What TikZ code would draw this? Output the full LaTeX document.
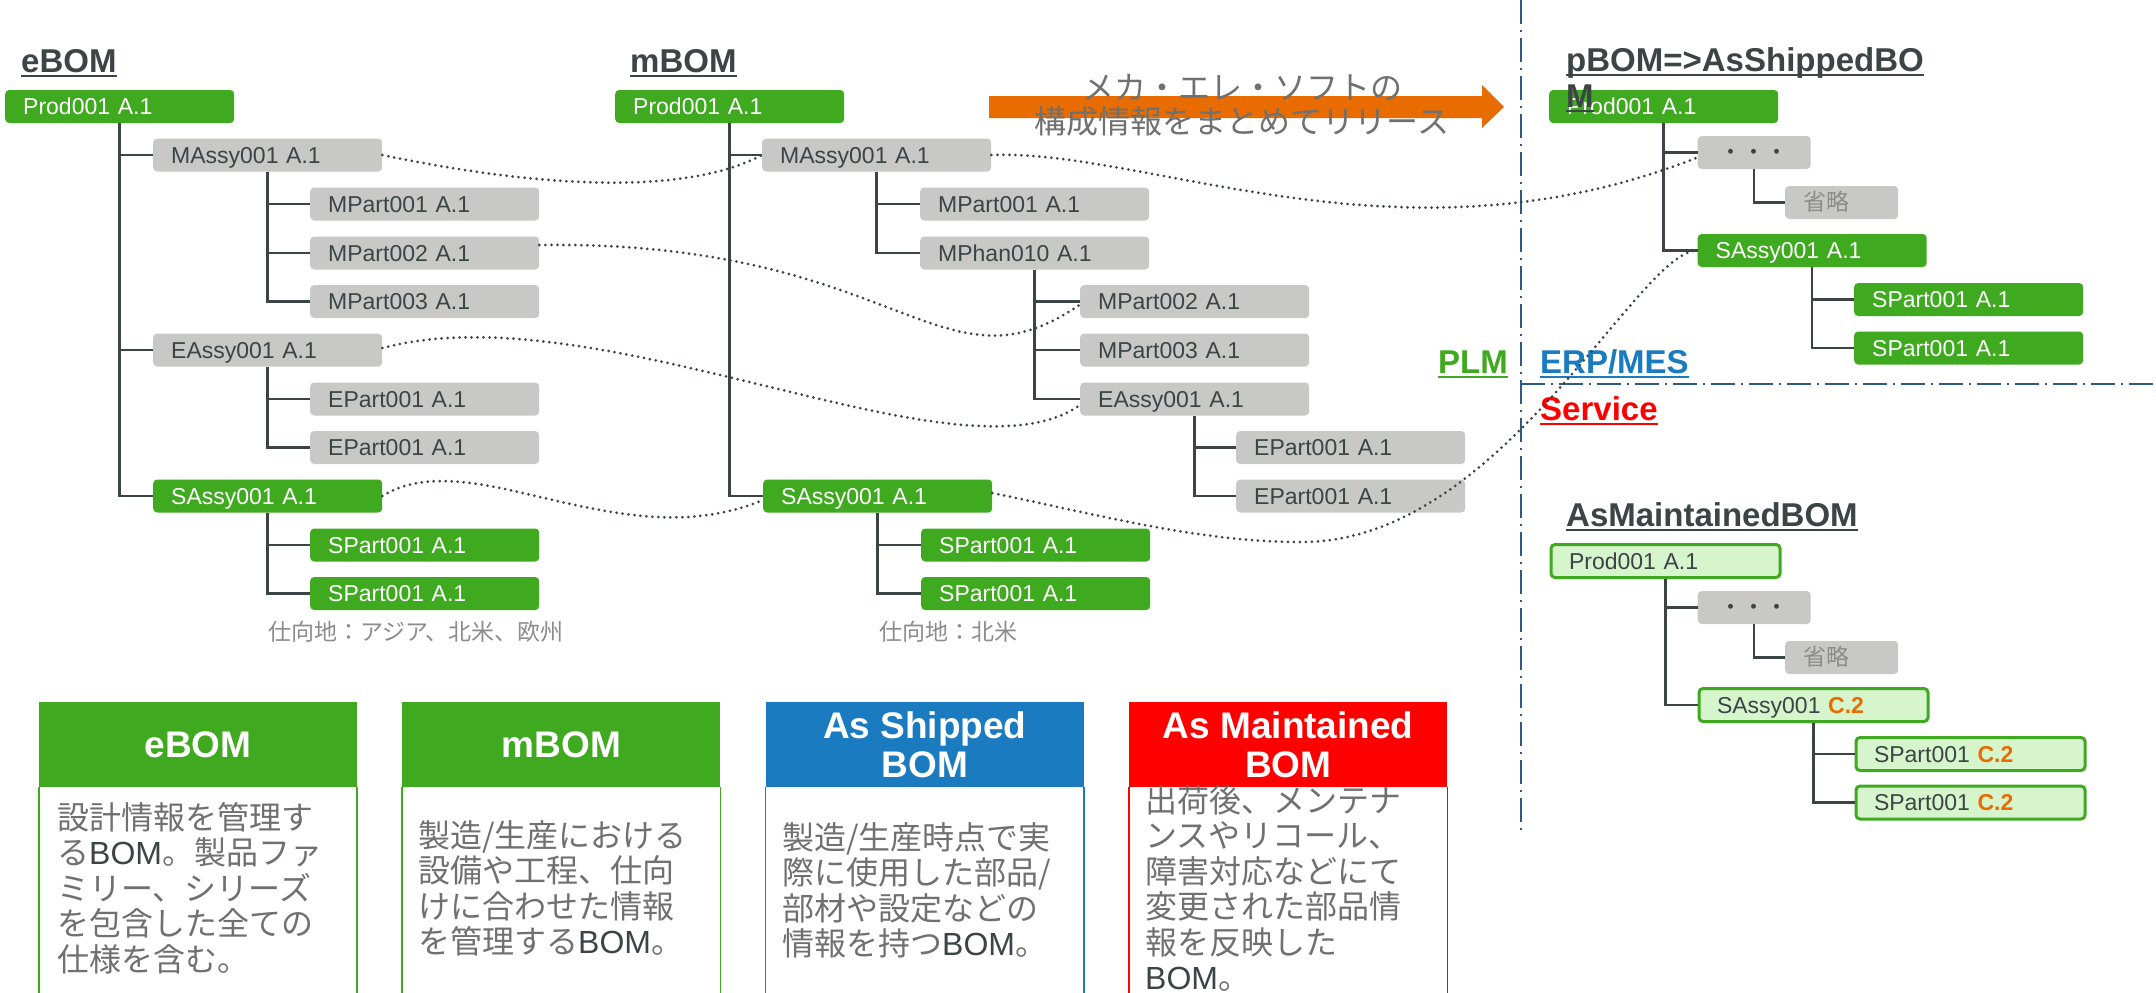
\documentclass[tikz,border=0pt]{standalone}
\usepackage{fontspec}
\setmainfont{Liberation Sans}
\newfontfamily\jpfont{Noto Sans CJK JP}
\usetikzlibrary{positioning}

\definecolor{bomgreen}{RGB}{63,169,31}
\definecolor{boxgray}{RGB}{200,200,198}
\definecolor{ink}{RGB}{60,68,70}
\definecolor{paleg}{RGB}{214,245,204}
\definecolor{shipblue}{RGB}{26,123,193}
\definecolor{relorange}{RGB}{232,108,0}
\definecolor{divblue}{RGB}{46,90,132}
\definecolor{softgray}{RGB}{112,112,112}
\definecolor{notegray}{RGB}{140,140,140}

\newcommand\ulin[1]{\setbox0\hbox{#1}\rlap{\rule[-5pt]{\wd0}{2.5pt}}\box0}
\newcommand\latBOM{{\rmfamily\color{ink}BOM}}

\begin{document}
\begin{tikzpicture}[x=1pt, y=-1pt, node distance=45pt]
  \tikzstyle{item}=[rectangle, rounded corners=4pt, anchor=west, minimum width=229pt, minimum height=33pt, text width=193pt, text height=16.5pt, text depth=0pt, inner xsep=18pt, inner ysep=0pt, align=left, font=\fontsize{23}{26}\selectfont]
  \tikzstyle{gitem}=[item, fill=bomgreen, text=white]
  \tikzstyle{sitem}=[item, fill=boxgray, text=ink]
  \tikzstyle{mitem}=[item, fill=paleg, draw=bomgreen, line width=3pt, text=ink]
  \tikzstyle{small}=[sitem, minimum width=113pt, text width=77pt]
  \tikzstyle{omit}=[small, text=notegray, font=\jpfont\fontsize{23}{26}\selectfont]
  \tikzstyle{dots}=[small, align=center, font=\jpfont\fontsize{23}{26}\selectfont]
  \tikzstyle{dest}=[anchor=west, inner sep=0pt, text=notegray, font=\jpfont\fontsize{23}{26}\selectfont]
  \tikzstyle{title}=[anchor=base west, inner sep=0pt, align=left, text=ink, font=\bfseries\fontsize{33}{36}\selectfont]
  \tikzstyle{tree}=[draw=ink, line width=2.5pt]
  \tikzstyle{link}=[draw=ink, line width=3pt, line cap=round, dash pattern=on 0pt off 6pt]
  \tikzstyle{divider}=[draw=divblue, line width=2.5pt, dash pattern=on 24pt off 6pt on 2pt off 6pt]
  \tikzstyle{cardhead}=[rectangle, minimum width=318pt, minimum height=85pt, inner sep=0pt, align=center, text=white, font=\bfseries\fontsize{37}{39}\selectfont]
  \tikzstyle{cardtext}=[anchor=north west, inner sep=0pt, align=left, text=softgray, font=\jpfont\fontsize{32}{35.5}\selectfont]

  \path[use as bounding box, fill=white] (0,0) rectangle (2156,993);

  % release arrow
  \fill[relorange] (989,96) -- (1482,96) -- (1482,85) -- (1504,107) -- (1482,128) -- (1482,118) -- (989,118) -- cycle;
  \node [align=center, inner sep=0pt, text=softgray, font=\jpfont\fontsize{32}{34}\selectfont] at (1242,105) (release) {メカ・エレ・ソフトの\\構成情報をまとめてリリース};

  % system borders
  \draw[divider] (1521,0) -- (1521,830);
  \draw[divider] (1521,384) -- (2156,384);
  \node [title, text=bomgreen] at (1438,373) (plm) {\ulin{PLM}};
  \node [title, text=shipblue] at (1540,373) (erp) {\ulin{ERP/MES}};
  \node [title, text=red] at (1540,420) (service) {\ulin{Service}};

  % eBOM
  \node [title] at (21,72) (ebomT) {\ulin{eBOM}};
  \node [gitem] at (5,106.5) (prodE) {Prod001 A.1};
  \node [sitem] at (153,155) (massyE) {MAssy001 A.1};
  \node [sitem] at (310,204) (mpartEa) {MPart001 A.1};
  \node [sitem] at (310,253) (mpartEb) {MPart002 A.1};
  \node [sitem] at (310,301.5) (mpartEc) {MPart003 A.1};
  \node [sitem] at (153,350) (eassyE) {EAssy001 A.1};
  \node [sitem] at (310,399) (epartEa) {EPart001 A.1};
  \node [sitem] at (310,447.5) (epartEb) {EPart001 A.1};
  \node [gitem] at (153,496) (sassyE) {SAssy001 A.1};
  \node [gitem] at (310,545) (spartEa) {SPart001 A.1};
  \node [gitem] at (310,593.5) (spartEb) {SPart001 A.1};
  \node [dest] at (268,632) (destE) {仕向地：アジア、北米、欧州};
  \draw[tree] (prodE.south) |- (massyE.west);
  \draw[tree] (prodE.south) |- (eassyE.west);
  \draw[tree] (prodE.south) |- (sassyE.west);
  \draw[tree] (massyE.south) |- (mpartEa.west);
  \draw[tree] (massyE.south) |- (mpartEb.west);
  \draw[tree] (massyE.south) |- (mpartEc.west);
  \draw[tree] (eassyE.south) |- (epartEa.west);
  \draw[tree] (eassyE.south) |- (epartEb.west);
  \draw[tree] (sassyE.south) |- (spartEa.west);
  \draw[tree] (sassyE.south) |- (spartEb.west);

  % mBOM
  \node [title] at (630,72) (mbomT) {\ulin{mBOM}};
  \node [gitem] at (615,106.5) (prodM) {Prod001 A.1};
  \node [sitem] at (762,155) (massyM) {MAssy001 A.1};
  \node [sitem] at (920,204) (mpartMa) {MPart001 A.1};
  \node [sitem] at (920,253) (mphanM) {MPhan010 A.1};
  \node [sitem] at (1080,301.5) (mpartMb) {MPart002 A.1};
  \node [sitem] at (1080,350) (mpartMc) {MPart003 A.1};
  \node [sitem] at (1080,399) (eassyM) {EAssy001 A.1};
  \node [sitem] at (1236,447.5) (epartMa) {EPart001 A.1};
  \node [sitem] at (1236,496) (epartMb) {EPart001 A.1};
  \node [gitem] at (763,496) (sassyM) {SAssy001 A.1};
  \node [gitem] at (921,545) (spartMa) {SPart001 A.1};
  \node [gitem] at (921,593.5) (spartMb) {SPart001 A.1};
  \node [dest] at (879,632) (destM) {仕向地：北米};
  \draw[tree] (prodM.south) |- (massyM.west);
  \draw[tree] (prodM.south) |- (sassyM.west);
  \draw[tree] (massyM.south) |- (mpartMa.west);
  \draw[tree] (massyM.south) |- (mphanM.west);
  \draw[tree] (mphanM.south) |- (mpartMb.west);
  \draw[tree] (mphanM.south) |- (mpartMc.west);
  \draw[tree] (mphanM.south) |- (eassyM.west);
  \draw[tree] (eassyM.south) |- (epartMa.west);
  \draw[tree] (eassyM.south) |- (epartMb.west);
  \draw[tree] (sassyM.south) |- (spartMa.west);
  \draw[tree] (sassyM.south) |- (spartMb.west);

  % pBOM => AsShippedBOM
  \node [gitem] at (1549,106.5) (prodP) {Prod001 A.1};
  \node [title] at (1566,107) (pbomT) {\ulin{pBOM=>AsShippedBO}\\\ulin{M}};
  \node [dots] at (1697.5,152.5) (dotsP) {・・・};
  \node [omit] at (1785,202.5) (omitP) {省略};
  \node [gitem] at (1697.5,250.5) (sassyP) {SAssy001 A.1};
  \node [gitem] at (1854,299.5) (spartPa) {SPart001 A.1};
  \node [gitem] at (1854,348) (spartPb) {SPart001 A.1};
  \draw[tree] (prodP.south) |- (dotsP.west);
  \draw[tree] (prodP.south) |- (sassyP.west);
  \draw[tree] (dotsP.south) |- (omitP.west);
  \draw[tree] (sassyP.south) |- (spartPa.west);
  \draw[tree] (sassyP.south) |- (spartPb.west);

  % AsMaintainedBOM
  \node [title] at (1566,526) (ambomT) {\ulin{AsMaintainedBOM}};
  \node [mitem] at (1549.5,561) (prodA) {Prod001 A.1};
  \node [dots] at (1697.5,607.5) (dotsA) {・・・};
  \node [omit] at (1785,657.5) (omitA) {省略};
  \node [mitem] at (1697.5,705) (sassyA) {SAssy001 \textcolor{relorange}{\bfseries C.2}};
  \node [mitem] at (1854.5,754) (spartAa) {SPart001 \textcolor{relorange}{\bfseries C.2}};
  \node [mitem] at (1854.5,802.5) (spartAb) {SPart001 \textcolor{relorange}{\bfseries C.2}};
  \draw[tree] (prodA.south) |- (dotsA.west);
  \draw[tree] (prodA.south) |- (sassyA.west);
  \draw[tree] (dotsA.south) |- (omitA.west);
  \draw[tree] (sassyA.south) |- (spartAa.west);
  \draw[tree] (sassyA.south) |- (spartAb.west);

  % correspondences
  \draw[link] (massyE.east) .. controls +(138,29) and +(-82,44) .. (massyM.west);
  \draw[link] (massyM.east) .. controls +(160,-6) and +(-297,117) .. ([yshift=-5pt]dotsP.west);
  \draw[link] ([yshift=8pt]mpartEb.east) .. controls +(361,-5) and +(-140,97) .. ([yshift=-3pt]mpartMb.west);
  \draw[link] ([yshift=2pt]eassyE.east) .. controls +(219,-58) and +(-120,85) .. ([yshift=-6pt]eassyM.west);
  \draw[link] (sassyE.east) .. controls +(89,-55) and +(-143,60) .. ([yshift=-4pt]sassyM.west);
  \draw[link] ([yshift=3pt]sassyM.east) .. controls +(120,25) and +(-100,0) .. (1302,542) .. controls +(200,0) and +(-60,0) .. (sassyP.west);

  % legend cards
  \node [cardhead, fill=bomgreen] at (198,744.5) (cardE) {eBOM};
  \node [cardhead, fill=bomgreen, right=of cardE] (cardM) {mBOM};
  \node [cardhead, fill=shipblue, right=of cardM] (cardS) {As Shipped\\BOM};
  \node [cardhead, fill=red, right=of cardS] (cardA) {As Maintained\\BOM};
  \draw[bomgreen, line width=1.5pt] (cardE.south west) -- ++(0,210);
  \draw[bomgreen, line width=1.5pt] (cardE.south east) -- ++(0,210);
  \draw[bomgreen, line width=1.5pt] (cardM.south west) -- ++(0,210);
  \draw[bomgreen, line width=1.5pt] (cardM.south east) -- ++(0,210);
  \draw[shipblue, line width=1.5pt] (cardS.south west) -- ++(0,210);
  \draw[shipblue, line width=1.5pt] (cardS.south east) -- ++(0,210);
  \draw[red, line width=1.5pt] (cardA.south west) -- ++(0,210);
  \draw[red, line width=1.5pt] (cardA.south east) -- ++(0,210);
  \node [cardtext] at (57,802) (textE) {設計情報を管理す\\る\latBOM。製品ファ\\ミリー、シリーズ\\を包含した全ての\\仕様を含む。};
  \node [cardtext] at (418,820) (textM) {製造/生産における\\設備や工程、仕向\\けに合わせた情報\\を管理する\latBOM。};
  \node [cardtext] at (782,822) (textS) {製造/生産時点で実\\際に使用した部品/\\部材や設定などの\\情報を持つ\latBOM。};
  \node [cardtext] at (1145,785) (textA) {出荷後、メンテナ\\ンスやリコール、\\障害対応などにて\\変更された部品情\\報を反映した\\\latBOM。};
\end{tikzpicture}
\end{document}
